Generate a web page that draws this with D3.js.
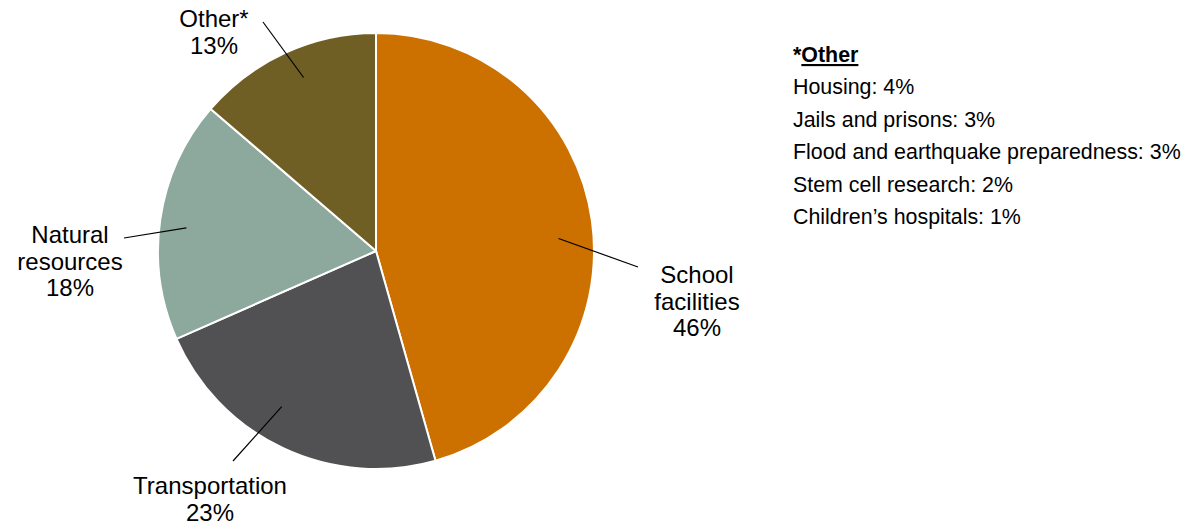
<!DOCTYPE html>
<html>
<head>
<meta charset="utf-8">
<script src="https://cdn.jsdelivr.net/npm/d3@7"></script>
<style>
	body { margin: 0; background: #fff; }
	svg { display: block; font-family: "Liberation Sans", Arial, sans-serif; }
</style>
</head>
<body>
<svg id="chart"></svg>
<script>
// data
const categories = ["School facilities", "Transportation", "Natural resources", "Other*"];
const shares = [45.6, 22.8, 17.9, 13.7];      // slice sizes
const shareLabels = ["46%", "23%", "18%", "13%"];
const labelLines = [["School", "facilities"], ["Transportation"], ["Natural", "resources"], ["Other*"]];
const colors = ["#CC7000", "#515154", "#8DA89C", "#705F24"];

const otherTitle = "Other";
const otherItems = ["Housing", "Jails and prisons", "Flood and earthquake preparedness", "Stem cell research", "Children\u2019s hospitals"];
const otherShares = [4, 3, 3, 2, 1];

// label layout, relative to pie centre: text centre x, first baseline y,
// leader end (ex, ey), leader start nudge (degrees from slice middle) and radius
const labelLayout = [
	{ tx: 321, ty: 32, ex: 262, ey: 16, da: 4, r: 183 },
	{ tx: -166, ty: 243, ex: -143, ey: 210, da: 6, r: 182 },
	{ tx: -306, ty: -8, ex: -252, ey: -13, da: -1.5, r: 191 },
	{ tx: -162, ty: -224, ex: -113, ey: -229, da: 2, r: 188 }
];

const width = 1190;
const height = 527;
const cx = 376, cy = 251, radius = 218;

const svg = d3.select("#chart")
	.attr("width", width)
	.attr("height", height);

const pie = d3.pie().sort(null).value(d => d);
const arcs = pie(shares);
const arc = d3.arc().innerRadius(0).outerRadius(radius);

const g = svg.append("g").attr("transform", `translate(${cx},${cy})`);

g.selectAll("path")
	.data(arcs)
	.join("path")
	.attr("d", arc)
	.attr("fill", (d, i) => colors[i])
	.attr("stroke", "#fff")
	.attr("stroke-width", 2)
	.attr("stroke-linejoin", "round");

// leader lines
const anchor = (d, i) => d3.pointRadial(
	(d.startAngle + d.endAngle) / 2 + labelLayout[i].da * Math.PI / 180,
	labelLayout[i].r);

g.selectAll("line.leader")
	.data(arcs)
	.join("line")
	.attr("class", "leader")
	.attr("x1", (d, i) => anchor(d, i)[0])
	.attr("y1", (d, i) => anchor(d, i)[1])
	.attr("x2", (d, i) => labelLayout[i].ex)
	.attr("y2", (d, i) => labelLayout[i].ey)
	.attr("stroke", "#000")
	.attr("stroke-width", 1.2);

// labels
const lineH = 26.5;
g.selectAll("text.lbl")
	.data(arcs)
	.join("text")
	.attr("class", "lbl")
	.attr("text-anchor", "middle")
	.attr("font-size", 24)
	.attr("fill", "#000")
	.each(function(d, i) {
		const t = d3.select(this);
		const lines = labelLines[i].concat([shareLabels[i]]);
		lines.forEach((s, k) => {
			t.append("tspan")
				.attr("x", labelLayout[i].tx)
				.attr("y", labelLayout[i].ty + k * lineH)
				.text(s);
		});
	});

// "Other" breakdown
const note = svg.append("g").attr("transform", "translate(793,0)");
const head = note.append("text")
	.attr("y", 62)
	.attr("font-size", 21.4)
	.attr("font-weight", "bold");
head.append("tspan").text("*");
head.append("tspan").attr("text-decoration", "underline").text(otherTitle);

note.selectAll("text.item")
	.data(otherItems)
	.join("text")
	.attr("class", "item")
	.attr("y", (d, i) => 94 + i * 32.5)
	.attr("font-size", 21.4)
	.text((d, i) => `${d}: ${otherShares[i]}%`);
</script>
</body>
</html>
